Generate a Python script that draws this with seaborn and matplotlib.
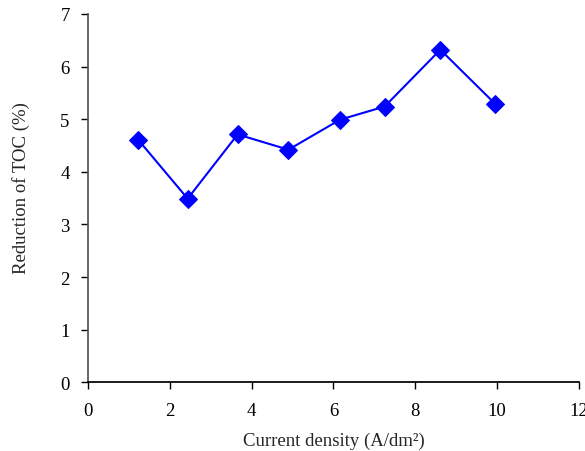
import matplotlib
matplotlib.use("Agg")
import matplotlib.pyplot as plt
import seaborn as sns
import pandas as pd

# values
current_density = [1.23, 2.44, 3.66, 4.90, 6.16, 7.25, 8.61, 9.95]
toc_reduction = [4.61, 3.49, 4.71, 4.42, 4.99, 5.24, 6.32, 5.29]
x_ticks = [0, 2, 4, 6, 8, 10, 12]
y_ticks = [0, 1, 2, 3, 4, 5, 6, 7]

df = pd.DataFrame({"x": current_density, "y": toc_reduction})

sns.set_theme(style="ticks")
plt.rcParams["font.family"] = ["Liberation Serif", "DejaVu Serif"]

fig = plt.figure(figsize=(5.85, 4.52), dpi=100)
ax = fig.add_axes([0.150, 0.152, 0.840, 0.815])

sns.lineplot(data=df, x="x", y="y", ax=ax, color="#0000ff", linewidth=1.5,
             marker="D", markersize=9.5, markeredgecolor="#0000ff")

ax.set_xlim(0, 12)
ax.set_ylim(0, 7)
ax.set_xticks(x_ticks)
ax.set_yticks(y_ticks)
ax.tick_params(axis="both", labelsize=13.5, length=5, width=1, colors="black", direction="out")
ax.tick_params(axis="x", pad=9)
ax.tick_params(axis="y", pad=8)
for s in ["top", "right"]:
    ax.spines[s].set_visible(False)
ax.spines["left"].set_color("#555555")
ax.spines["bottom"].set_color("black")
ax.set_xlabel("Current density (A/dm²)", fontsize=13.5, labelpad=9)
ax.set_ylabel("Reduction of TOC (%)", fontsize=13.5)
ax.yaxis.set_label_coords(-0.118, 0.53)

fig.savefig("out.png", dpi=100)
